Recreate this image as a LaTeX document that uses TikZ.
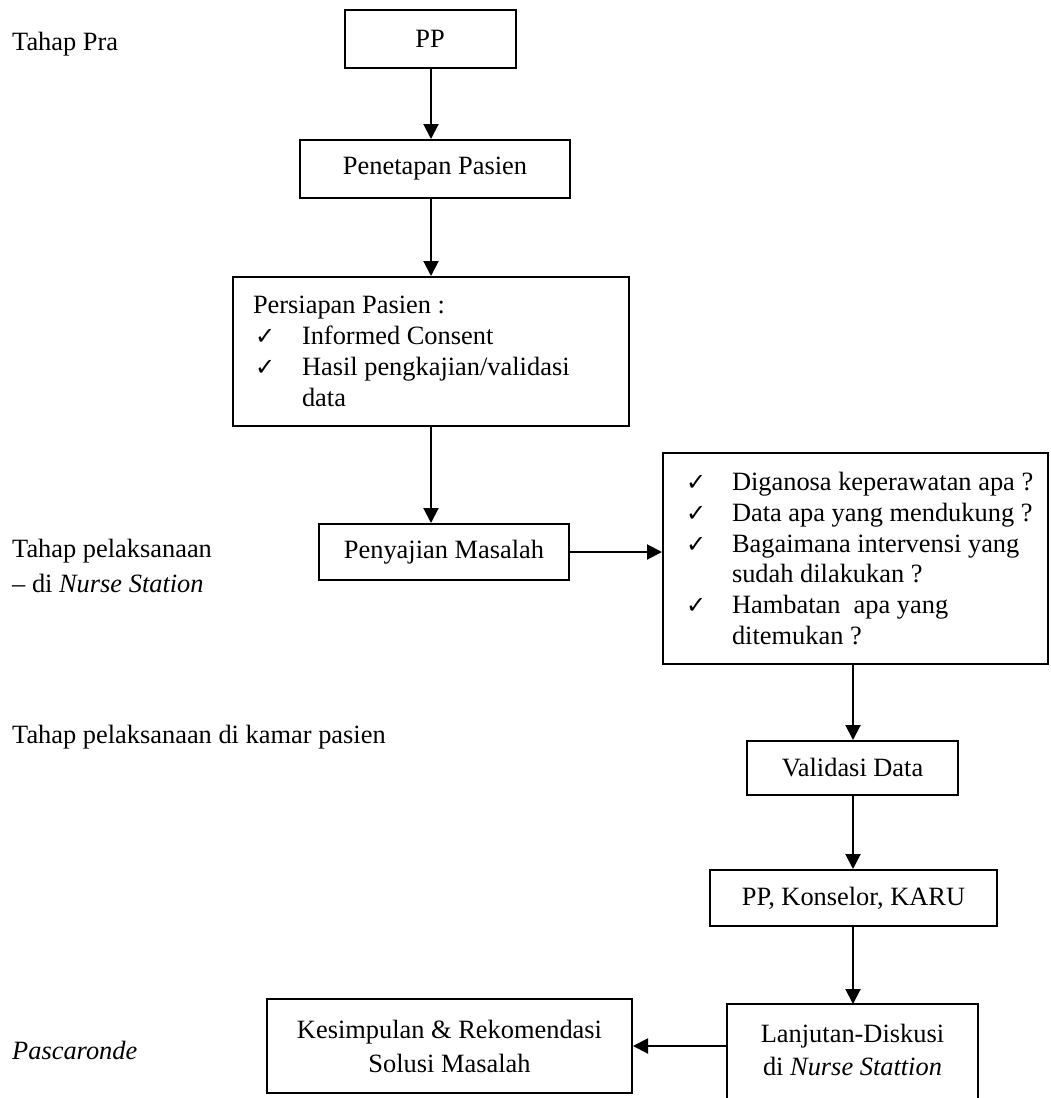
\documentclass[tikz,border=0pt]{standalone}
\usepackage{fontspec}
\setmainfont{Liberation Serif}
\newfontfamily\symfnt{DejaVu Sans}
\usetikzlibrary{arrows.meta}
% check mark used in the bulleted boxes
\newcommand\ckmark{{\symfnt\fontsize{24}{24}\selectfont ✓}}
\newcommand\ckitem{\makebox[64pt][l]{\hspace{18pt}\ckmark}}
\newcommand\ckitemB{\makebox[49pt][l]{\hspace{2pt}\ckmark}}
\begin{document}
\begin{tikzpicture}[x=1pt,y=-1pt,
  every node/.style={font=\fontsize{26.4}{30.8}\selectfont},
  boxline/.style={line width=2pt},
  box/.style={draw, boxline, rectangle, inner sep=0pt, align=center},
  lbl/.style={anchor=west, inner sep=0pt, align=flush left},
  arr/.style={line width=2pt, -{Triangle[length=15pt,width=15pt]}}]
\useasboundingbox (0,0) rectangle (1051,1098);
\clip (0,0) rectangle (1051,1098);

% column positions of the vertical connectors
\coordinate (colA) at (431,0);
\coordinate (colB) at (853,0);

% stage labels on the left
\node[lbl] (pra) at (12,44) {Tahap Pra};
\node[lbl, font=\fontsize{26.4}{35}\selectfont] (ns) at (12,565.5)
  {Tahap pelaksanaan\\\textendash{} di \textit{Nurse Station}};
\node[lbl] (km) at (12,737) {Tahap pelaksanaan di kamar pasien};
\node[lbl] (pasca) at (12,1050) {\textit{Pascaronde}};

% left column
\node[box, minimum width=171, minimum height=58] (pp) at (430,39) {PP};
\node[box, minimum width=270, minimum height=58] (pen) at (435,169) {Penetapan Pasien};
\node[box, minimum width=396, minimum height=149, text width=376, inner xsep=10pt,
  align=flush left] (prep) at (431,351.5)
  {\hspace*{10pt}Persiapan Pasien :\\
   \hspace*{10pt}\ckitemB Informed Consent\\
   \hspace*{10pt}\ckitemB Hasil pengkajian/validasi\\
   \hspace*{59pt}data};
\node[box, minimum width=250, minimum height=56] (pyj) at (444,552) {Penyajian Masalah};

% right column
\node[box, minimum width=385, minimum height=211, text width=375, inner xsep=5pt,
  align=flush left] (q) at (855.5,558.5)
  {\ckitem Diganosa keperawatan apa ?\\
   \ckitem Data apa yang mendukung ?\\
   \ckitem Bagaimana intervensi yang\\
   \hspace*{64pt}sudah dilakukan ?\\
   \ckitem Hambatan\ \ apa yang\\
   \hspace*{64pt}ditemukan ?};
\node[box, minimum width=211, minimum height=54] (val) at (852.5,768) {Validasi Data};
\node[box, minimum width=287, minimum height=56] (ppk) at (853.5,898) {PP, Konselor, KARU};
% this box runs on past the lower edge of the page, so only three sides are drawn
\node[box, draw=none, minimum width=249, minimum height=90,
  font=\fontsize{26.4}{33}\selectfont]
  (lnj) at (852.5,1050) {Lanjutan-Diskusi\\di \textit{Nurse Stattion}};
\draw[boxline] ([yshift=-20pt]lnj.south west) -- (lnj.north west)
  -- (lnj.north east) -- ([yshift=-20pt]lnj.south east);
\node[box, minimum width=365, minimum height=94, font=\fontsize{26.4}{34}\selectfont]
  (ksm) at (449.5,1046) {Kesimpulan \& Rekomendasi\\Solusi Masalah};

% connectors
\draw[arr] (pp.south -| colA) -- (pen.north -| colA);
\draw[arr] (pen.south -| colA) -- (prep.north -| colA);
\draw[arr] (prep.south -| colA) -- (pyj.north -| colA);
\draw[arr] (pyj.east) -- (q.west |- pyj.east);
\draw[arr] (q.south -| colB) -- (val.north -| colB);
\draw[arr] (val.south -| colB) -- (ppk.north -| colB);
\draw[arr] (ppk.south -| colB) -- (lnj.north -| colB);
\draw[arr] (lnj.west |- ksm.east) -- (ksm.east);
\end{tikzpicture}
\end{document}
